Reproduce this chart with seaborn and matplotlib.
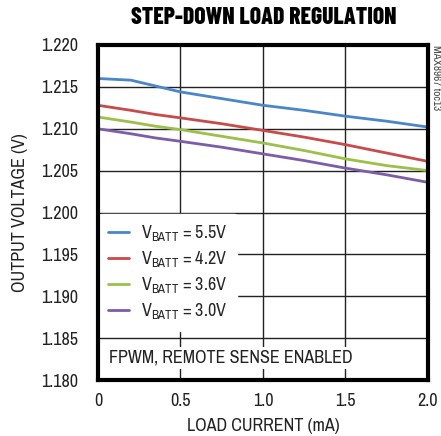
import matplotlib
matplotlib.use("Agg")
import matplotlib.pyplot as plt
import seaborn as sns
import pandas as pd
from matplotlib.lines import Line2D

# ---- data ----
load_current = [0.0, 0.2, 0.35, 0.5, 0.75, 1.0, 1.25, 1.5, 1.75, 2.0]
v_55 = [1.2160, 1.2158, 1.2151, 1.2144, 1.2136, 1.2128, 1.2122, 1.2115, 1.2109, 1.2102]
v_42 = [1.2128, 1.2122, 1.2117, 1.2113, 1.2106, 1.2098, 1.2090, 1.2081, 1.2071, 1.2061]
v_36 = [1.2114, 1.2108, 1.2103, 1.2099, 1.2091, 1.2083, 1.2074, 1.2064, 1.2056, 1.2050]
v_30 = [1.2100, 1.2094, 1.2089, 1.2085, 1.2078, 1.2070, 1.2062, 1.2053, 1.2045, 1.2036]
series_labels = ["5.5V", "4.2V", "3.6V", "3.0V"]
colors = ["#4a86c8", "#c84a4a", "#9cc04a", "#7d5ca8"]
x_ticks = [0, 0.5, 1.0, 1.5, 2.0]
x_ticklabels = ["0", "0.5", "1.0", "1.5", "2.0"]
y_ticks = [1.180, 1.185, 1.190, 1.195, 1.200, 1.205, 1.210, 1.215, 1.220]

sns.set_theme(style="white")
fam = "Archivo Narrow"
plt.rcParams["font.family"] = [fam, "DejaVu Sans"]
plt.rcParams["mathtext.fontset"] = "custom"
plt.rcParams["mathtext.rm"] = fam

rows = []
for lab, vals in zip(series_labels, [v_55, v_42, v_36, v_30]):
    for x, v in zip(load_current, vals):
        rows.append({"I": x, "V": v, "s": lab})
df = pd.DataFrame(rows)

fig = plt.figure(figsize=(4.41, 4.36), dpi=100)
ax = fig.add_axes([0.222, 0.1284, 0.7485, 0.7684])
sns.lineplot(data=df, x="I", y="V", hue="s", palette=colors, linewidth=2.0,
             ax=ax, legend=False, zorder=3)

ax.set_xlim(0, 2.0)
ax.set_ylim(1.180, 1.220)
ax.set_xticks(x_ticks)
ax.set_xticklabels(x_ticklabels)
ax.set_yticks(y_ticks)
ax.set_yticklabels([f"{t:.3f}" for t in y_ticks])
ax.tick_params(axis="both", length=0, labelsize=13, colors="#222222")
ax.tick_params(axis="y", pad=14)
ax.tick_params(axis="x", pad=9)
ax.grid(True, color="#222222", linewidth=1.0, zorder=1)
ax.set_axisbelow(True)
for sp in ax.spines.values():
    sp.set_linewidth(3)
    sp.set_color("black")
    sp.set_zorder(10)

ax.set_xlabel("LOAD CURRENT (mA)", fontsize=13, color="#222222", labelpad=7)
ax.set_ylabel("OUTPUT VOLTAGE (V)", fontsize=13, color="#222222", labelpad=10)
title_fam = "Barlow Condensed"
fig.text(0.597, 0.958, "STEP-DOWN LOAD REGULATION", ha="center", va="center",
         fontsize=17, fontweight="heavy", color="black", family=[title_fam, "DejaVu Sans"])
fig.text(0.988, 0.822, "MAX8967 toc13", rotation=270, ha="center", va="center",
         fontsize=8, color="#444444")

handles = [Line2D([0], [0], color=c, lw=2) for c in colors]
labels = [r"V$_{\mathrm{BATT}}$ = " + l for l in series_labels]
leg = ax.legend(handles, labels, loc="upper left", bbox_to_anchor=(0.0, 0.497),
                frameon=True, fontsize=13, handlelength=1.15, handletextpad=0.7,
                labelspacing=0.33, borderpad=0.55, borderaxespad=0.0)
leg.get_frame().set_facecolor("white")
leg.get_frame().set_edgecolor("white")
leg.get_frame().set_alpha(1.0)
leg.set_zorder(5)

ax.text(0.035, 0.066, "FPWM, REMOTE SENSE ENABLED", transform=ax.transAxes,
        fontsize=13, color="#222222", va="center", ha="left", zorder=5,
        bbox=dict(facecolor="white", edgecolor="none", pad=2))

fig.savefig("out.png", dpi=100)
